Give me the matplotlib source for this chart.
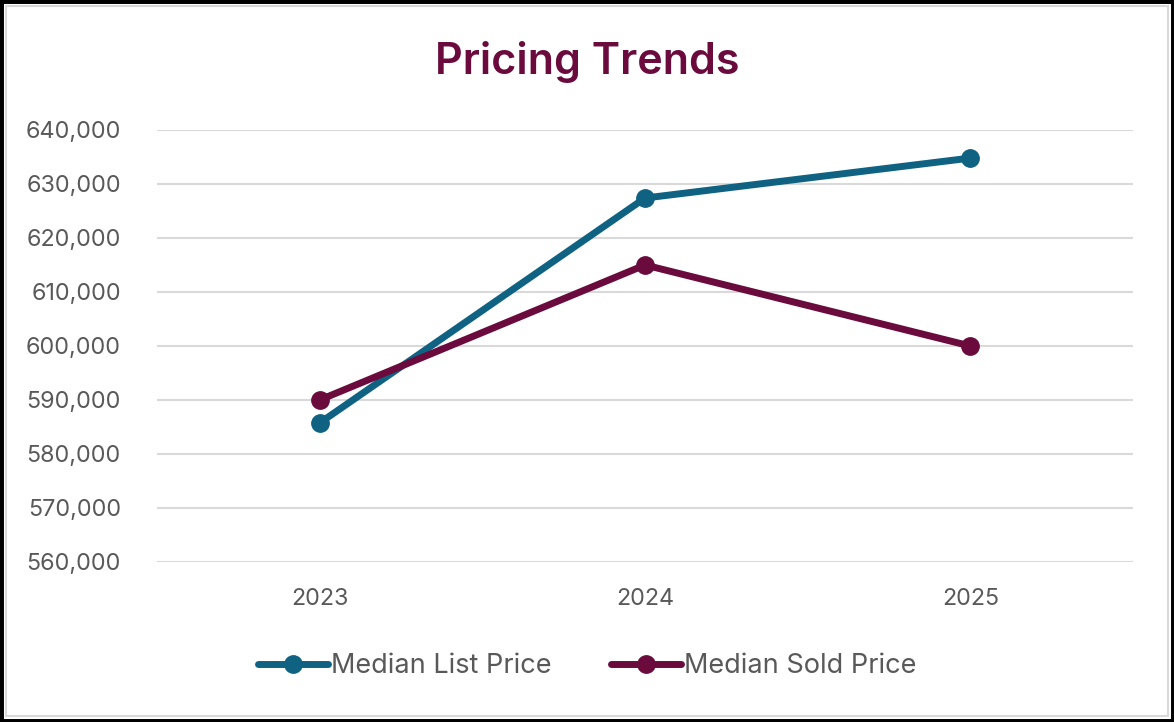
import matplotlib
matplotlib.use("Agg")
import matplotlib.pyplot as plt
from matplotlib.patches import Rectangle
from matplotlib.ticker import FuncFormatter

years = ["2023", "2024", "2025"]
median_list_price = [585750, 627400, 634800]
median_sold_price = [590000, 615000, 600000]
y_ticks = [560000, 570000, 580000, 590000, 600000, 610000, 620000, 630000, 640000]

teal = "#0F6282"
maroon = "#6A0A3D"
gray_text = "#595959"
grid_color = "#D9D9D9"

plt.rcParams['font.family'] = ['Inter', 'DejaVu Sans']

fig = plt.figure(figsize=(11.74, 7.22), dpi=100)
W, H = 1174, 722
ax = fig.add_axes([157 / W, 1 - 562 / H, (1133 - 157) / W, (562 - 130) / H])

x = list(range(len(years)))
ax.plot(x, median_list_price, color=teal, lw=5, marker='o', ms=12.5,
        solid_capstyle='round', label="Median List Price", zorder=3)
ax.plot(x, median_sold_price, color=maroon, lw=5, marker='o', ms=12.5,
        solid_capstyle='round', label="Median Sold Price", zorder=3)

ax.set_xlim(-0.5, 2.5)
ax.set_ylim(560000, 640000)
ax.set_yticks(y_ticks)
ax.yaxis.set_major_formatter(FuncFormatter(lambda v, p: f"{int(v):,}"))
ax.set_xticks(x)
ax.set_xticklabels(years)
ax.grid(axis='y', color=grid_color, lw=1.5)
ax.set_axisbelow(True)
for s in ax.spines.values():
    s.set_visible(False)
ax.tick_params(axis='both', length=0, colors=gray_text, labelsize=16.8)
ax.tick_params(axis='y', pad=26)
ax.tick_params(axis='x', pad=19)

fig.text(0.5, 1 - 62 / H, "Pricing Trends", ha='center', va='center',
         fontsize=31, color=maroon, fontweight='semibold')

leg = fig.legend(loc='center', bbox_to_anchor=(0.5, 1 - 666 / H), ncol=2,
                 frameon=False, fontsize=19.5, handlelength=2.6, handletextpad=0.1,
                 columnspacing=2.2)
for t in leg.get_texts():
    t.set_color(gray_text)

# borders
fig.patches.append(Rectangle((0, 0), 1, 1, transform=fig.transFigure, fill=False,
                             edgecolor='black', lw=5, zorder=10))
fig.patches.append(Rectangle((6 / W, 6 / H), 1 - 12 / W, 1 - 12 / H, transform=fig.transFigure,
                             fill=False, edgecolor='#D9D9D9', lw=1.5, zorder=10))

fig.savefig("out.png", dpi=100)
